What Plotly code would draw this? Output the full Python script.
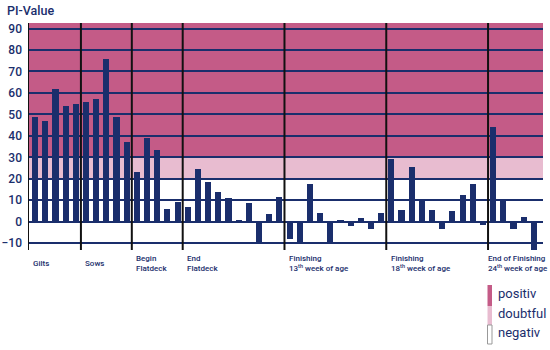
import plotly.graph_objects as go

# ---- data ----
group_labels = [
    "Gilts",
    "Sows",
    "Begin<br>Flatdeck",
    "End<br>Flatdeck",
    "Finishing<br>13<sup>th</sup> week of age",
    "Finishing<br>18<sup>th</sup> week of age",
    "End of Finishing<br>24<sup>th</sup> week of age",
]
group_sizes = [5, 5, 5, 10, 10, 10, 5]
pi_values = [
    49, 47, 62, 54, 55,
    56, 57, 76, 49, 37,
    23, 39, 33.5, 6, 9,
    7, 24.5, 18.5, 14, 11, 1, 8.5, -10.5, 3.5, 11.5,
    -8, -10.5, 17.5, 4, -10, 1, -2, 1.5, -3.5, 4,
    29, 5.5, 25.5, 10, 5.5, -3.5, 5, 12.5, 17.5, -1.5,
    44, 10, -3.5, 2, -13,
]
y_ticks = [-10, 0, 10, 20, 30, 40, 50, 60, 70, 80, 90]
bands = [  # (name, lower, upper)
    ("positiv", 30, 92.6),
    ("doubtful", 20, 30),
    ("negativ", -13.2, 20),
]

# ---- styling ----
NAVY = "#1a2e6c"
PINK = "#c45b87"
LIGHT = "#e8bcd0"
W, H = 550, 350
ML, MR, MT, MB = 28, 7, 23, 100
PW, PH = W - ML - MR, H - MT - MB
XR = [-0.7, 49.9]
YR = [-13.2, 92.6]
FONT = "Roboto"


def px(xp):
    return (xp - ML) / PW


def py(yp):
    return (H - MB - yp) / PH


x_pos = list(range(len(pi_values)))

fig = go.Figure()
fig.add_trace(go.Bar(
    x=x_pos, y=pi_values, width=0.6,
    marker=dict(color=NAVY, line=dict(width=0)),
    hoverinfo="y", showlegend=False,
))

shapes = []
# background bands
shapes.append(dict(type="rect", xref="x", yref="y", x0=XR[0], x1=XR[1],
                   y0=bands[0][1], y1=bands[0][2], fillcolor=PINK,
                   line=dict(width=0), layer="below"))
shapes.append(dict(type="rect", xref="x", yref="y", x0=XR[0], x1=XR[1],
                   y0=bands[1][1], y1=bands[1][2], fillcolor=LIGHT,
                   line=dict(width=0), layer="below"))

# group dividers
bounds = [XR[0]]
c = 0
for s in group_sizes[:-1]:
    c += s
    bounds.append(c - 0.5)
for b in bounds:
    shapes.append(dict(type="line", xref="x", yref="paper", x0=b, x1=b,
                       y0=0, y1=1, line=dict(color="#111111", width=2),
                       layer="above"))

annotations = []
# group labels
n_groups = len(group_labels)
for i, (b, lab) in enumerate(zip(bounds, group_labels)):
    if i < n_groups - 1:
        pos = dict(x=b + 0.25, xref="x", xanchor="left")
    else:
        pos = dict(x=px(550), xref="paper", xanchor="right")
    annotations.append(dict(
        **pos, y=py(263), yref="paper", text=lab,
        showarrow=False, yanchor="middle", align="left",
        font=dict(family=FONT, size=8, color=NAVY, weight=500),
    ))

# axis title
annotations.append(dict(
    x=px(5), xref="paper", y=py(10), yref="paper", text="PI-Value",
    showarrow=False, xanchor="left", yanchor="middle",
    font=dict(family=FONT, size=12.5, color=NAVY, weight=500),
))

# legend
leg_cols = [PINK, LIGHT, "white"]
leg_y = [(285, 306), (306, 325), (325, 344)]
for (name, _, _), col, (ya, yb) in zip(bands, leg_cols, leg_y):
    shapes.append(dict(
        type="rect", xref="paper", yref="paper",
        x0=px(487.5), x1=px(492), y0=py(yb), y1=py(ya), fillcolor=col,
        line=dict(width=1 if col == "white" else 0, color="#999999"),
    ))
    annotations.append(dict(
        x=px(496), xref="paper", y=py((ya + yb) / 2 - 2), yref="paper",
        text=name, showarrow=False, xanchor="left", yanchor="middle",
        font=dict(family=FONT, size=13, color=NAVY),
    ))

fig.update_layout(
    width=W, height=H,
    margin=dict(l=ML, r=MR, t=MT, b=MB, autoexpand=False),
    paper_bgcolor="white", plot_bgcolor="white",
    bargap=0,
    shapes=shapes, annotations=annotations,
    xaxis=dict(range=XR, showgrid=False, zeroline=False, showticklabels=False,
               ticks="", showline=False, fixedrange=True, automargin=False),
    yaxis=dict(range=YR, tickvals=y_ticks, showgrid=True, gridcolor=NAVY,
               gridwidth=2, zeroline=True, zerolinecolor=NAVY, zerolinewidth=2,
               showline=False, ticks="", ticklabelstandoff=5, automargin=False,
               tickfont=dict(family=FONT, size=12, color=NAVY, weight=500),
               fixedrange=True),
    showlegend=False,
)

fig.write_html("out.html")
